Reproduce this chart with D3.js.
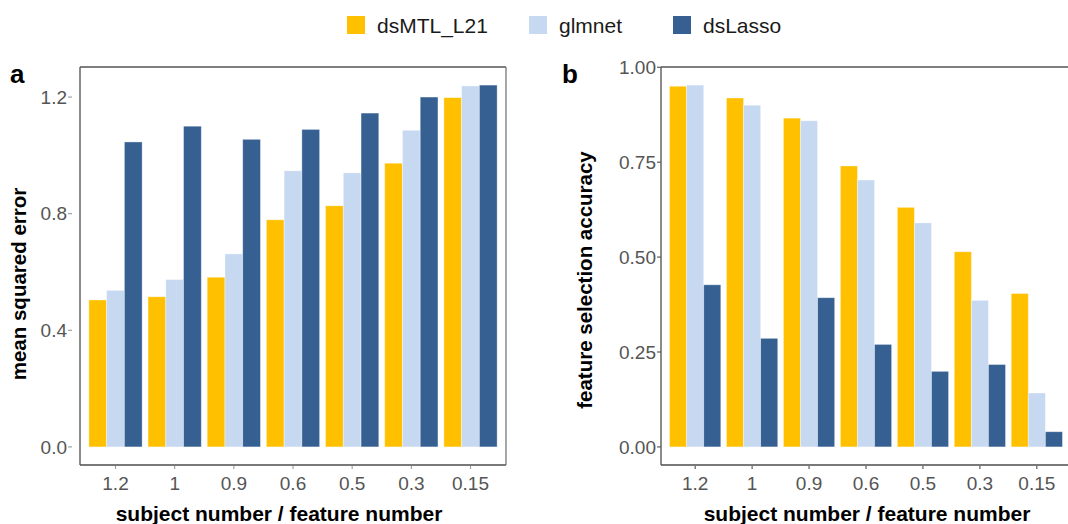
<!DOCTYPE html>
<html>
<head>
<meta charset="utf-8">
<script src="https://cdn.jsdelivr.net/npm/d3@7"></script>
<style>
  body { margin: 0; background: #fff; }
  svg { display: block; font-family: Arial, "Liberation Sans", sans-serif; }
</style>
</head>
<body>
<div id="chart"></div>
<script>
// data
const ratios = ["1.2", "1", "0.9", "0.6", "0.5", "0.3", "0.15"];
const methods = ["dsMTL_L21", "glmnet", "dsLasso"];
const colors = ["#FFC000", "#C6D9F1", "#366092"];

// panel a: mean squared error
const mseL21 = [0.504, 0.515, 0.582, 0.779, 0.827, 0.973, 1.198];
const mseGlmnet = [0.537, 0.574, 0.662, 0.947, 0.940, 1.086, 1.238];
const mseLasso = [1.046, 1.100, 1.055, 1.089, 1.145, 1.200, 1.241];
const mseTicks = [0.0, 0.4, 0.8, 1.2];

// panel b: feature selection accuracy
const accL21 = [0.950, 0.919, 0.866, 0.740, 0.631, 0.514, 0.404];
const accGlmnet = [0.953, 0.900, 0.859, 0.703, 0.590, 0.386, 0.142];
const accLasso = [0.427, 0.286, 0.393, 0.270, 0.199, 0.217, 0.040];
const accTicks = [0.00, 0.25, 0.50, 0.75, 1.00];

const width = 1068;
const height = 524;

const svg = d3.select("#chart")
  .append("svg")
  .attr("width", width)
  .attr("height", height);

// legend
const legendX = [347, 529, 673];
const legend = svg.selectAll(".legend")
  .data(methods)
  .enter()
  .append("g")
  .attr("transform", (d, i) => `translate(${legendX[i]},16)`);
legend.append("rect")
  .attr("width", 18)
  .attr("height", 18)
  .attr("fill", (d, i) => colors[i]);
legend.append("text")
  .attr("x", 30)
  .attr("y", 17)
  .attr("font-size", 21)
  .attr("fill", "#1a1a1a")
  .text(d => d);

function drawPanel(opts) {
  const series = opts.series;
  const maxV = d3.max(series.flat());
  const pad = maxV * 0.05;

  // ggplot-like discrete expansion: 0.6 units each side
  const x = d3.scaleBand()
    .domain(ratios)
    .range([opts.left, opts.right])
    .paddingInner(0)
    .paddingOuter(0.1);

  const y = d3.scaleLinear()
    .domain([-pad, maxV + pad])
    .range([opts.bottom, opts.top]);

  const sub = d3.scaleBand()
    .domain(methods)
    .range([0, x.bandwidth() * 0.9]);

  const g = svg.append("g");

  // bars
  const groups = g.selectAll(".grp")
    .data(ratios)
    .enter()
    .append("g")
    .attr("transform", d => `translate(${x(d) + x.bandwidth() * 0.05},0)`);

  groups.selectAll("rect")
    .data((d, i) => methods.map((m, j) => ({ m: m, j: j, v: series[j][i] })))
    .enter()
    .append("rect")
    .attr("x", d => sub(d.m))
    .attr("width", sub.bandwidth())
    .attr("y", d => y(d.v))
    .attr("height", d => y(0) - y(d.v))
    .attr("fill", d => colors[d.j])
    .attr("stroke", "#ffffff")
    .attr("stroke-opacity", 0.45)
    .attr("stroke-width", 0.8);

  // axes lines
  const axisColor = "#4d4d4d";
  g.append("line")
    .attr("x1", opts.left).attr("x2", opts.left)
    .attr("y1", opts.top).attr("y2", opts.bottom)
    .attr("stroke", axisColor).attr("stroke-width", 1.3);
  g.append("line")
    .attr("x1", opts.left).attr("x2", opts.right)
    .attr("y1", opts.bottom).attr("y2", opts.bottom)
    .attr("stroke", axisColor).attr("stroke-width", 1.3);
  g.append("line")
    .attr("x1", opts.left).attr("x2", opts.right)
    .attr("y1", opts.top).attr("y2", opts.top)
    .attr("stroke", "#555").attr("stroke-width", 1.3);
  if (opts.rightBorder) {
    g.append("line")
      .attr("x1", opts.right).attr("x2", opts.right)
      .attr("y1", opts.top).attr("y2", opts.bottom)
      .attr("stroke", "#777").attr("stroke-width", 1.3);
  }

  // y ticks
  const yt = g.selectAll(".yt")
    .data(opts.ticks)
    .enter()
    .append("g")
    .attr("transform", d => `translate(0,${y(d)})`);
  yt.append("line")
    .attr("x1", opts.left - opts.tickGap - 4)
    .attr("x2", opts.left - opts.tickGap)
    .attr("stroke", opts.tickColor)
    .attr("stroke-width", 1.1);
  yt.append("text")
    .attr("x", opts.left - opts.tickGap - 5)
    .attr("dy", "0.35em")
    .attr("text-anchor", "end")
    .attr("font-size", 19)
    .attr("fill", "#555")
    .text(d => d3.format(opts.fmt)(d));

  // x ticks
  const xt = g.selectAll(".xt")
    .data(ratios)
    .enter()
    .append("g")
    .attr("transform", d => `translate(${x(d) + x.bandwidth() / 2},${opts.bottom})`);
  xt.append("line")
    .attr("y1", 1)
    .attr("y2", 4)
    .attr("stroke", opts.tickColor)
    .attr("stroke-width", 1.1);
  xt.append("text")
    .attr("y", 25)
    .attr("text-anchor", "middle")
    .attr("font-size", 19)
    .attr("fill", "#555")
    .text(d => d);

  // titles
  svg.append("text")
    .attr("x", opts.xTitleX)
    .attr("y", 521)
    .attr("text-anchor", "middle")
    .attr("font-size", 21)
    .attr("font-weight", "bold")
    .attr("fill", "#000")
    .text("subject number / feature number");

  svg.append("text")
    .attr("transform", `translate(${opts.yTitleX},${opts.yTitleY}) rotate(-90)`)
    .attr("text-anchor", "middle")
    .attr("font-size", 20.5)
    .attr("font-weight", "bold")
    .attr("fill", "#000")
    .text(opts.yTitle);

  svg.append("text")
    .attr("x", opts.labelX)
    .attr("y", 83)
    .attr("font-size", 26)
    .attr("font-weight", "bold")
    .attr("fill", "#000")
    .text(opts.label);
}

drawPanel({
  series: [mseL21, mseGlmnet, mseLasso],
  ticks: mseTicks,
  fmt: ".1f",
  left: 80, right: 506, top: 67, bottom: 465,
  rightBorder: true,
  tickGap: 8,
  tickColor: "#999",
  xTitleX: 279,
  yTitleX: 26, yTitleY: 284,
  yTitle: "mean squared error",
  label: "a", labelX: 10
});

drawPanel({
  series: [accL21, accGlmnet, accLasso],
  ticks: accTicks,
  fmt: ".2f",
  left: 661, right: 1071, top: 67, bottom: 465,
  rightBorder: false,
  tickGap: 0,
  tickColor: "#4d4d4d",
  xTitleX: 867,
  yTitleX: 592, yTitleY: 280,
  yTitle: "feature selection accuracy",
  label: "b", labelX: 562
});
</script>
</body>
</html>
